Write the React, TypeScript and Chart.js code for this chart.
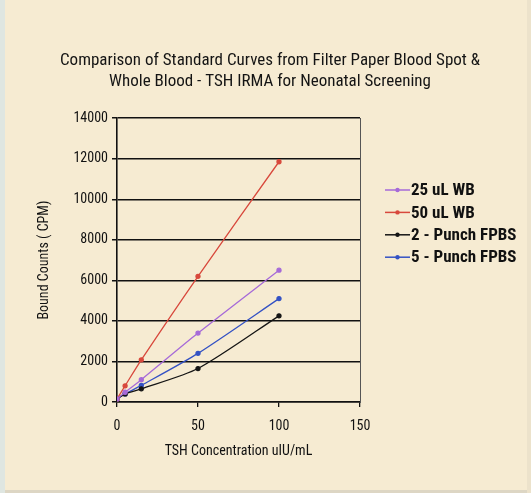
import React, { useEffect, useRef } from "react";
import { Chart, registerables } from "chart.js";

Chart.register(...registerables);

const titleLines = [
  "Comparison of Standard Curves from Filter Paper Blood Spot &",
  "Whole Blood - TSH IRMA for Neonatal Screening",
];
const xAxisTitle = "TSH Concentration uIU/mL";
const yAxisTitle = "Bound Counts ( CPM)";

const concentrations = [0, 5, 15, 50, 100];
const wb25 = [150, 480, 1100, 3400, 6500];
const wb50 = [150, 800, 2080, 6200, 11850];
const punch2 = [150, 400, 650, 1650, 4250];
const punch5 = [150, 400, 820, 2400, 5100];

const seriesNames = ["25 uL WB", "50 uL WB", "2 - Punch FPBS", "5 - Punch FPBS"];
const seriesValues = [wb25, wb50, punch2, punch5];
const seriesColors = ["#a66ad8", "#d8483c", "#151515", "#3452c4"];

const FONT = "'Roboto Condensed', 'Liberation Sans', sans-serif";

export default function App() {
  const ref = useRef<HTMLCanvasElement>(null);
  useEffect(() => {
    const canvas = ref.current!;
    const background = {
      id: "panelBackground",
      beforeDraw(chart: any) {
        const { ctx, width, height } = chart;
        ctx.save();
        ctx.fillStyle = "#f6ebd2";
        ctx.fillRect(0, 0, width, height);
        ctx.fillStyle = "#dfe6e1";
        ctx.fillRect(0, 0, 5, height);
        ctx.fillStyle = "#ddd6c4";
        ctx.fillRect(5, height - 3, width - 5, 3);
        ctx.fillStyle = "#ece2cb";
        ctx.fillRect(width - 4, 0, 4, height);
        ctx.restore();
      },
    };
    const legendPlugin = {
      id: "sideLegend",
      afterDraw(chart: any) {
        const { ctx } = chart;
        ctx.save();
        chart.data.datasets.forEach((ds: any, i: number) => {
          const y = 190 + i * 22.4;
          ctx.strokeStyle = ds.borderColor;
          ctx.lineWidth = 1.5;
          ctx.beginPath();
          ctx.moveTo(385, y);
          ctx.lineTo(410, y);
          ctx.stroke();
          ctx.fillStyle = ds.borderColor;
          ctx.beginPath();
          ctx.arc(397.5, y, 2.2, 0, Math.PI * 2);
          ctx.fill();
          ctx.fillStyle = "#111";
          ctx.font = `bold 17px ${FONT}`;
          ctx.textBaseline = "middle";
          ctx.textAlign = "left";
          ctx.fillText(ds.label, 411, y + 1);
        });
        ctx.restore();
      },
    };
    const plain = (v: any) => String(v);
    const chart = new Chart(canvas, {
      type: "line",
      data: {
        datasets: seriesNames.map((name, i) => ({
          label: name,
          data: concentrations.map((c, j) => ({ x: c, y: seriesValues[i][j] })),
          borderColor: seriesColors[i],
          backgroundColor: seriesColors[i],
          borderWidth: 1.3,
          pointRadius: 2,
          pointHoverRadius: 2,
          tension: 0.25,
          fill: false,
        })),
      },
      options: {
        responsive: false,
        animation: false,
        layout: { padding: { left: 32, top: 50, right: 23, bottom: 33 } },
        plugins: {
          legend: { display: false },
          tooltip: { enabled: false },
          title: {
            display: true,
            text: titleLines,
            color: "#141414",
            font: { family: FONT, size: 17, weight: "normal", lineHeight: 1.24 },
            padding: { top: 0, bottom: 26 },
          },
        },
        scales: {
          x: {
            type: "linear",
            min: 0,
            max: 150,
            ticks: { stepSize: 50, color: "#111", padding: 11, font: { family: FONT, size: 14 }, callback: plain },
            grid: { drawOnChartArea: false, drawTicks: true, tickLength: 5, color: "#111", lineWidth: 1.3 },
            border: { color: "#111", width: 1.6 },
            title: { display: true, text: xAxisTitle, color: "#111", font: { family: FONT, size: 14 }, padding: { top: 4, bottom: 0 } },
            afterFit(s: any) { s.height = 58; },
          },
          y: {
            type: "linear",
            min: 0,
            max: 14000,
            ticks: { stepSize: 2000, color: "#111", padding: 4, font: { family: FONT, size: 14 }, callback: plain },
            grid: { color: "#111", lineWidth: 1.5, tickLength: 5, drawTicks: true },
            border: { color: "#111", width: 1.6 },
            title: { display: true, text: yAxisTitle, color: "#111", font: { family: FONT, size: 14 }, padding: { top: 4, bottom: 4 } },
            afterFit(s: any) { s.width = 85; },
          },
          y2: {
            type: "linear",
            position: "right",
            ticks: { display: false },
            grid: { display: false, drawTicks: false },
            border: { display: true, color: "#555", width: 1 },
            afterFit(s: any) { s.width = 148; },
          },
        },
      },
      plugins: [background, legendPlugin],
    } as any);
    return () => chart.destroy();
  }, []);
  return (
    <div style={{ position: "fixed", left: 0, top: 0, width: 531, height: 493 }}>
      <canvas ref={ref} width={531} height={493} />
    </div>
  );
}
